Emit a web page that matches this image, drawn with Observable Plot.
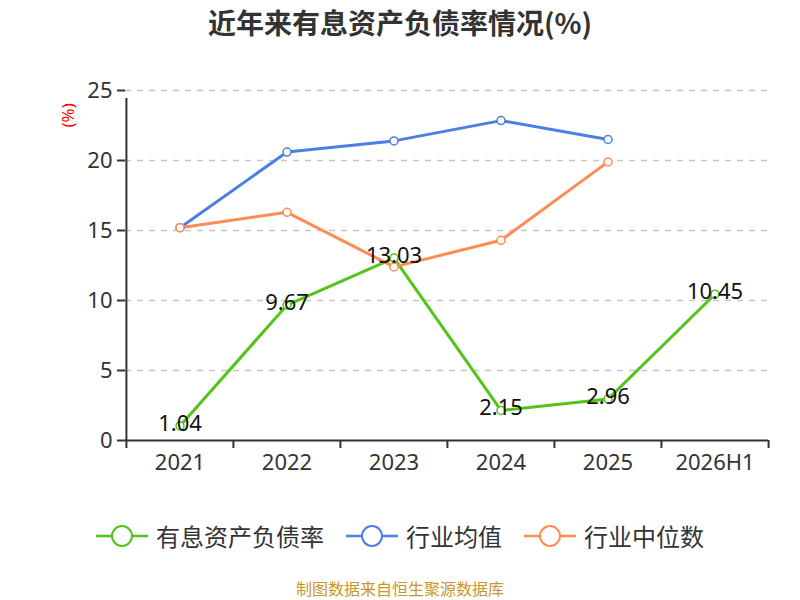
<!DOCTYPE html>
<html>
<head>
<meta charset="utf-8">
<script src="https://cdn.jsdelivr.net/npm/d3@7"></script>
<script src="https://cdn.jsdelivr.net/npm/@observablehq/plot@0.6"></script>
<style>
  body { margin: 0; background: #fff; font-family: "Noto Sans CJK SC", "Noto Sans", sans-serif; }
  #wrap { width: 800px; height: 600px; position: relative; overflow: hidden; }
  #title { height: 45px; line-height: 45px; text-align: center; font-size: 28px; font-weight: bold; color: #333; }
  #legend { position: absolute; top: 518px; left: 0; width: 800px; display: flex; justify-content: center; gap: 22px; font-size: 24px; color: #333; }
  .item { display: flex; align-items: center; gap: 8px; }
  #footer { position: absolute; top: 578px; left: 0; width: 800px; height: 20px; line-height: 20px; text-align: center; font-size: 16px; color: #c8962c; }
</style>
</head>
<body>
<div id="wrap">
  <div id="title">近年来有息资产负债率情况(%)</div>
  <div id="chart"></div>
  <div id="legend"></div>
  <div id="footer">制图数据来自恒生聚源数据库</div>
</div>
<script>
const years = ["2021", "2022", "2023", "2024", "2025", "2026H1"];
const rate = [1.04, 9.67, 13.03, 2.15, 2.96, 10.45];
const industryMean = [15.2, 20.6, 21.4, 22.85, 21.5];
const industryMedian = [15.2, 16.3, 12.4, 14.3, 19.9];
const yTicks = [0, 5, 10, 15, 20, 25];
const seriesNames = ["有息资产负债率", "行业均值", "行业中位数"];
const seriesColors = ["#52c41a", "#4a7fe3", "#ff8c55"];

const rows = [];
rate.forEach((v, i) => rows.push({series: seriesNames[0], year: years[i], value: v}));
industryMean.forEach((v, i) => rows.push({series: seriesNames[1], year: years[i], value: v}));
industryMedian.forEach((v, i) => rows.push({series: seriesNames[2], year: years[i], value: v}));
const rateRows = rows.filter(d => d.series === seriesNames[0]);

const W = 800, H = 460, mL = 125, mR = 32, mT = 45, mB = 65;
const bw = (W - mL - mR) / years.length;

const chart = Plot.plot({
  width: W,
  height: H,
  marginLeft: mL,
  marginRight: mR,
  marginTop: mT,
  marginBottom: mB,
  style: {fontFamily: "'Noto Sans', 'Noto Sans CJK SC', sans-serif", fontSize: "22px", color: "#333"},
  x: {type: "band", domain: years, padding: 0},
  y: {domain: [0, 25]},
  color: {domain: seriesNames, range: seriesColors},
  marks: [
    Plot.ruleY(yTicks.filter(t => t > 0), {stroke: "#c8c8c8", strokeWidth: 1.5, strokeDasharray: "6,6"}),
    Plot.axisY({ticks: yTicks, tickSize: 8, tickPadding: 5, fontSize: 22, stroke: "#333", strokeWidth: 2, strokeOpacity: 1, label: null}),
    Plot.axisX({tickSize: 0, tickPadding: 14, fontSize: 22, label: null}),
    Plot.ruleY([0], {stroke: "#333", strokeWidth: 2}),
    Plot.ruleX(years, {x: d => d, y1: 0, y2: 0, insetBottom: -8, dx: -bw / 2, stroke: "#333", strokeWidth: 2}),
    Plot.ruleX([years[years.length - 1]], {x: d => d, y1: 0, y2: 0, insetBottom: -8, dx: bw / 2, stroke: "#333", strokeWidth: 2}),
    Plot.ruleX([years[0]], {x: d => d, y1: 0, y2: 25, insetBottom: -8, dx: -bw / 2, stroke: "#333", strokeWidth: 2}),
    Plot.lineY(rows, {x: "year", y: "value", z: "series", stroke: "series", strokeWidth: 3}),
    Plot.dot(rows, {x: "year", y: "value", stroke: "series", fill: "white", r: 4, strokeWidth: 1.5}),
    Plot.text(rateRows, {x: "year", y: "value", text: d => d.value.toFixed(2), fontSize: 22, fill: "#111", dy: -2, fontFamily: "'Noto Sans', sans-serif"}),
    Plot.text(["(%)"], {frameAnchor: "top-left", text: d => d, rotate: -90, dx: -64, dy: 37, fill: "red", fontSize: 17})
  ]
});
document.getElementById("chart").appendChild(chart);

const legend = document.getElementById("legend");
seriesNames.forEach((name, i) => {
  const item = document.createElement("div");
  item.className = "item";
  item.innerHTML = `<svg width="52" height="24"><line x1="0" y1="12" x2="52" y2="12" stroke="${seriesColors[i]}" stroke-width="2.5"/><circle cx="26" cy="12" r="10" fill="white" stroke="${seriesColors[i]}" stroke-width="2"/></svg><span>${name}</span>`;
  legend.appendChild(item);
});
</script>
</body>
</html>
